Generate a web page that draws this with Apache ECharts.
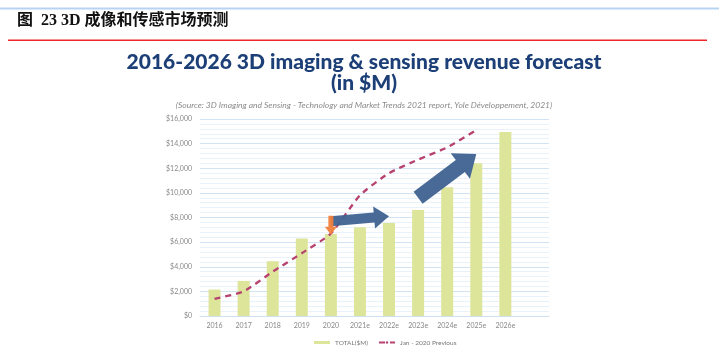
<!DOCTYPE html>
<html>
<head>
<meta charset="utf-8">
<script src="https://cdn.jsdelivr.net/npm/echarts@6/dist/echarts.min.js"></script>
<style>
html,body{margin:0;padding:0;background:#fff;}
#c{width:719px;height:349px;}
</style>
</head>
<body>
<div id="c"></div>
<script>
// ---- data ----
const categories = ['2016','2017','2018','2019','2020','2021e','2022e','2023e','2024e','2025e','2026e',''];
const totalValues = [2150, 2850, 4450, 6300, 6650, 7200, 7550, 8600, 10450, 12400, 14950, null];
const previousValues = [1400, 2000, 3600, 5100, 6700, 9800, 11600, 12700, 13700, 15100, null, null];
const yTicks = [0, 2000, 4000, 6000, 8000, 10000, 12000, 14000, 16000];
const seriesNames = ['TOTAL($M)', 'Jan - 2020 Previous'];

// annotation arrows in data space: [catIndex, value]
const arrowDefs = [
  {from:[4.33, 7700], to:[6.45, 8100], shaft:10, head:22, headLen:15, color:'#3F6290', z:10},
  {from:[6.62, 9600], to:[9.41, 13160], shaft:15, head:32, headLen:20, color:'#3F6290', z:10},
  {from:[3.97, 8150], to:[3.97, 6600], shaft:5, head:12, headLen:8, color:'#F0803C', z:11}
];

const chart = echarts.init(document.getElementById('c'), null, {renderer:'canvas'});
const font = 'Lato, "Open Sans", sans-serif';

const option = {
  animation:false,
  title:[
    {text:'2016-2026 3D imaging & sensing revenue forecast\n(in $M)', left:359, top:47, textAlign:'center',
     textStyle:{fontFamily:font, fontWeight:900, fontSize:21, color:'#1C3F77', lineHeight:21}},
    {text:'(Source: 3D Imaging and Sensing - Technology and Market Trends 2021 report, Yole Développement, 2021)',
     left:359, top:96, textAlign:'center',
     textStyle:{fontFamily:font, fontStyle:'italic', fontWeight:'normal', fontSize:8.5, color:'#8a8a8a'}}
  ],
  grid:{left:200, right:170, top:119, bottom:33, containLabel:false},
  legend:{
    left:309, top:334, itemGap:10, itemWidth:16, itemHeight:3,
    textStyle:{fontFamily:font, fontSize:6.5, color:'#777'},
    data:[{name:seriesNames[0], icon:'rect'}, {name:seriesNames[1]}]
  },
  xAxis:{
    type:'category', data:categories,
    axisLine:{show:true, lineStyle:{color:'#CFE0F2', width:1}},
    axisTick:{show:false},
    axisLabel:{fontFamily:font, fontSize:7, color:'#888', margin:6, interval:0}
  },
  yAxis:{
    type:'value', min:yTicks[0], max:yTicks[yTicks.length-1], interval:2000,
    axisLine:{show:false}, axisTick:{show:false},
    axisLabel:{fontFamily:font, fontSize:7, color:'#888', margin:8,
      formatter:v=>'$'+v.toLocaleString('en-US')},
    splitLine:{show:true, lineStyle:{color:'#D2E3F4', width:1}},
    minorTick:{show:false, splitNumber:5},
    minorSplitLine:{show:true, lineStyle:{color:'#E9F1FA', width:1}}
  },
  series:[
    {name:seriesNames[0], type:'bar', data:totalValues, barWidth:12, z:2,
     itemStyle:{color:'#DDE59B'}},
    {name:seriesNames[1], type:'line', data:previousValues, smooth:0.2, symbol:'none', z:3,
     connectNulls:false,
     lineStyle:{color:'#B7416F', width:2.3, type:[6,5]}, itemStyle:{color:'#B7416F'}}
  ],
  graphic:[]
};
chart.setOption(option);

function arrowPoints(a){
  const p0 = chart.convertToPixel({gridIndex:0}, a.from);
  const p1 = chart.convertToPixel({gridIndex:0}, a.to);
  const dx = p1[0]-p0[0], dy = p1[1]-p0[1];
  const L = Math.hypot(dx,dy);
  const ux = dx/L, uy = dy/L, nx = -uy, ny = ux;
  const hb = [p1[0]-ux*a.headLen, p1[1]-uy*a.headLen];
  const s = a.shaft/2, h = a.head/2;
  return [
    [p0[0]+nx*s, p0[1]+ny*s],
    [hb[0]+nx*s, hb[1]+ny*s],
    [hb[0]+nx*h, hb[1]+ny*h],
    [p1[0], p1[1]],
    [hb[0]-nx*h, hb[1]-ny*h],
    [hb[0]-nx*s, hb[1]-ny*s],
    [p0[0]-nx*s, p0[1]-ny*s]
  ];
}

const graphics = [
  {type:'rect', shape:{x:0, y:7.5, width:719, height:2}, style:{fill:'#B7D3F2'}, silent:true},
  {type:'rect', shape:{x:8, y:39.5, width:699, height:1.5}, style:{fill:'#F0262B'}, silent:true},
  {type:'text', left:17, top:13, style:{text:'图  23 3D 成像和传感市场预测',
    font:'bold 16px "Liberation Serif", "Noto Sans CJK SC", serif', fill:'#111'}, silent:true}
];
arrowDefs.forEach(a=>{
  graphics.push({type:'polygon', shape:{points:arrowPoints(a)}, style:{fill:a.color, opacity:0.95}, z:a.z, silent:true});
});
chart.setOption({graphic:graphics});
</script>
</body>
</html>
